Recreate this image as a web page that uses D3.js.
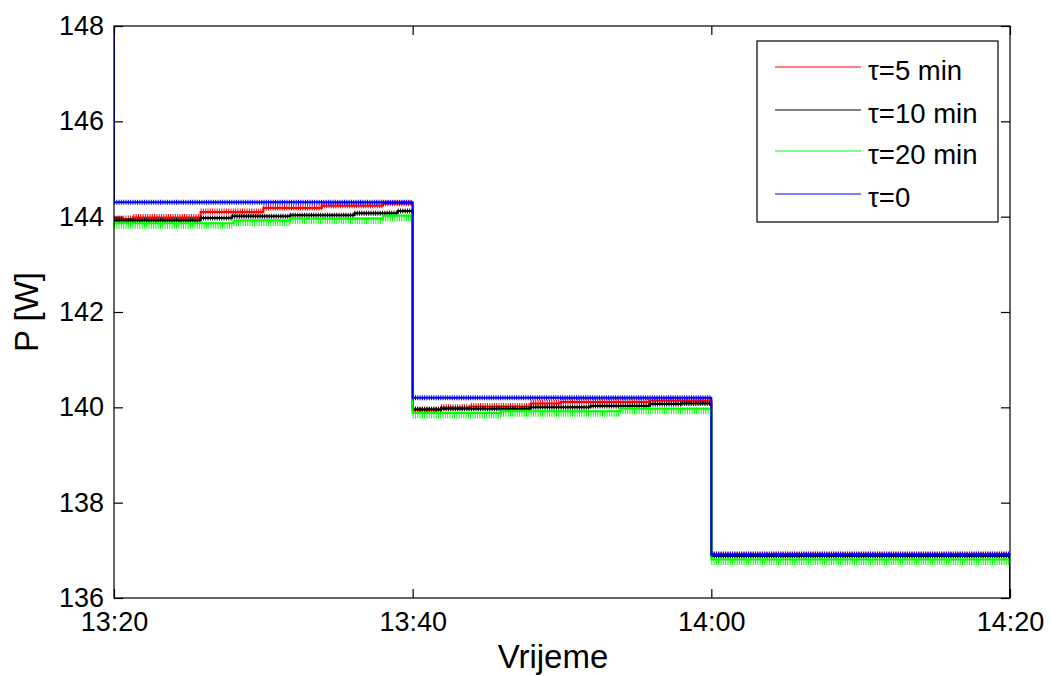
<!DOCTYPE html>
<html><head><meta charset="utf-8">
<script src="https://cdn.jsdelivr.net/npm/d3@7"></script>
<style>body{margin:0;background:#fff}svg{display:block}text{font-family:Arial,"Liberation Sans",sans-serif;fill:#000}</style>
</head><body>
<svg id="c" width="1050" height="676"></svg>
<script>
// time in minutes after 13:20, value in W (step-after)
const xTickLabels = ["13:20", "13:40", "14:00", "14:20"];
const xTickValues = [0, 20, 40, 60];
const yTickValues = [136, 138, 140, 142, 144, 146, 148];
const seriesNames = ["τ=5 min", "τ=10 min", "τ=20 min", "τ=0"];

const redT   = [0, 1.3, 5.8, 10, 13.9, 18, 20, 21.9, 23.9, 27.9, 29.9, 35.9, 40, 60];
const redV   = [143.95, 143.98, 144.1, 144.18, 144.23, 144.27, 139.94, 139.99, 140.02, 140.08, 140.11, 140.14, 136.9, 136.9];
const blackT = [0, 5.8, 7.9, 11.8, 16.1, 19, 20, 21.9, 27.9, 31.9, 35.9, 38, 40, 60];
const blackV = [143.92, 143.97, 144.01, 144.03, 144.07, 144.12, 139.96, 139.97, 140.0, 140.03, 140.07, 140.08, 136.88, 136.88];
const greenT = [0, 8, 11.8, 18, 20, 25.9, 33.9, 40, 60];
const greenV = [143.86, 143.92, 143.96, 144.02, 139.88, 139.92, 139.97, 136.81, 136.81];
const blueT  = [0, 0, 20, 40, 60];
const blueV  = [148, 144.3, 140.2, 136.92, 136.0];

const series = [
  {name: seriesNames[0], t: redT, v: redV, color: "#ff0000", band: 6, off: -0.5},
  {name: seriesNames[1], t: blackT, v: blackV, color: "#000000", band: 5, off: 0},
  {name: seriesNames[2], t: greenT, v: greenV, color: "#00ff00", band: 7, off: 2},
  {name: seriesNames[3], t: blueT, v: blueV, color: "#0000ff", band: 5, off: 0}
];

const L = 114, R = 1010, T = 26, B = 598;
const svg = d3.select("#c");
const x = d3.scaleLinear().domain([0, 60]).range([L, R]);
const y = d3.scaleLinear().domain([136, 148]).range([B, T]);

svg.append("defs").append("clipPath").attr("id", "pc")
  .append("rect").attr("x", L).attr("y", T).attr("width", R - L).attr("height", B - T);

const plot = svg.append("g").attr("clip-path", "url(#pc)");
const line = d3.line().x(d => x(d[0])).y(d => y(d[1])).curve(d3.curveStepAfter);

series.forEach(s => {
  const pts = s.t.map((t, i) => [t, s.v[i]]);
  const g = plot.append("g");
  // hatch band on horizontal segments (visual texture of the sampled signal)
  for (let i = 0; i < pts.length - 1; i++) {
    if (pts[i + 1][0] > pts[i][0]) {
      g.append("line")
        .attr("x1", x(pts[i][0])).attr("x2", x(pts[i + 1][0]))
        .attr("y1", y(pts[i][1]) + s.off).attr("y2", y(pts[i][1]) + s.off)
        .attr("stroke", s.color).attr("stroke-width", s.band)
        .attr("stroke-dasharray", "1 1.3");
    }
  }
  g.append("path").datum(pts).attr("d", line)
    .attr("fill", "none").attr("stroke", s.color).attr("stroke-width", 2);
});

// axes
const fs = 27;
const yAxis = svg.append("g").attr("transform", `translate(${L},0)`)
  .call(d3.axisLeft(y).tickValues(yTickValues).tickSize(-9).tickPadding(10).tickFormat(d3.format("d")));
const yAxisR = svg.append("g").attr("transform", `translate(${R},0)`)
  .call(d3.axisRight(y).tickValues(yTickValues).tickSize(-9).tickFormat(""));
const xAxis = svg.append("g").attr("transform", `translate(0,${B})`)
  .call(d3.axisBottom(x).tickValues(xTickValues).tickSize(-9).tickPadding(14).tickFormat((d, i) => xTickLabels[i]));
const xAxisT = svg.append("g").attr("transform", `translate(0,${T})`)
  .call(d3.axisTop(x).tickValues(xTickValues).tickSize(-9).tickFormat(""));
[yAxis, yAxisR, xAxis, xAxisT].forEach(a => {
  a.select(".domain").remove();
  a.selectAll("line").attr("stroke", "#000").attr("stroke-width", 1.2);
  a.selectAll("text").style("font-size", fs + "px").attr("font-family", null).attr("fill", "#000");
});
svg.append("rect").attr("x", L).attr("y", T).attr("width", R - L).attr("height", B - T)
  .attr("fill", "none").attr("stroke", "#000").attr("stroke-width", 1.2);

// axis labels
svg.append("text").attr("x", 553).attr("y", 668).attr("text-anchor", "middle")
  .style("font-size", "33px").text("Vrijeme");
svg.append("text").attr("transform", "translate(38,312) rotate(-90)").attr("text-anchor", "middle")
  .style("font-size", "33px").text("P [W]");

// legend
const lg = svg.append("g");
lg.append("rect").attr("x", 757).attr("y", 41).attr("width", 241).attr("height", 181)
  .attr("fill", "#fff").attr("stroke", "#000").attr("stroke-width", 1.2);
const ly = [67, 110, 151, 194];
series.forEach((s, i) => {
  lg.append("line").attr("x1", 775).attr("x2", 861).attr("y1", ly[i]).attr("y2", ly[i])
    .attr("stroke", s.color).attr("stroke-width", 1.2);
  lg.append("text").attr("x", 868).attr("y", ly[i] + 13).style("font-size", "27.5px").text(s.name);
});
</script>
</body></html>
